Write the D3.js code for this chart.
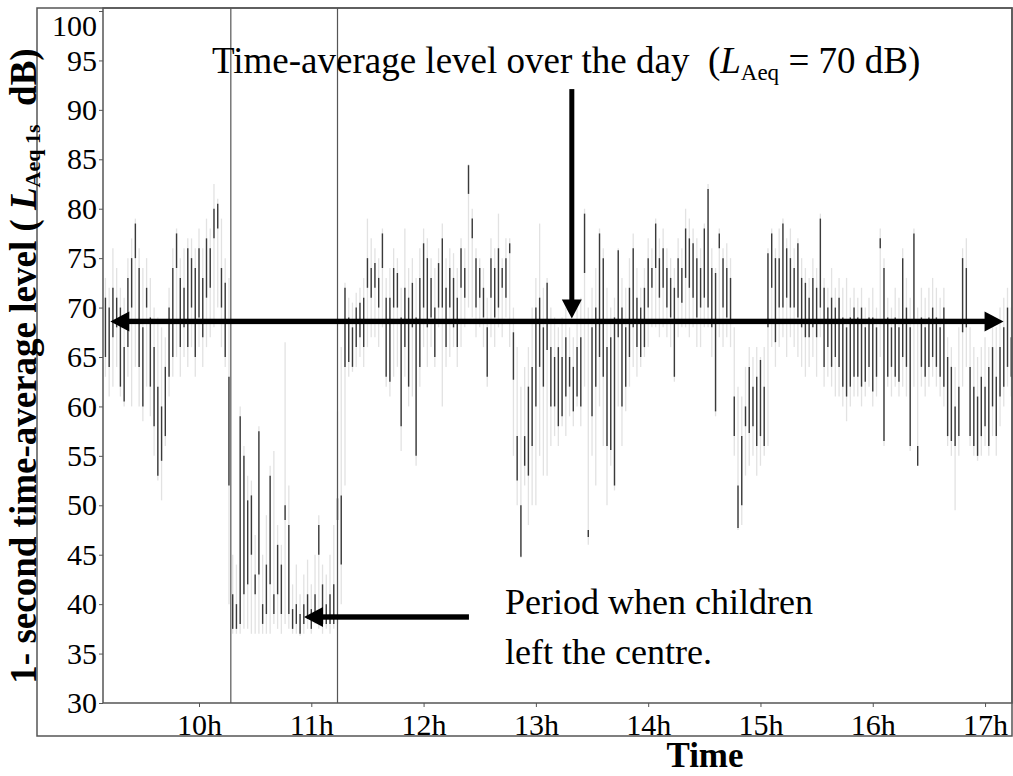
<!DOCTYPE html>
<html><head><meta charset="utf-8">
<script src="https://cdn.jsdelivr.net/npm/d3@7"></script>
<style>body{margin:0;background:#fff}svg{display:block}text{font-family:"Liberation Serif","DejaVu Serif",serif}</style>
</head><body>
<svg id="c" width="1013" height="776"></svg>
<script>
// ---- data: 1-second LAeq record summarised per 2-minute column (dB) ----
const startHour = 9 + 10/60;   // first column at 9:10
const stepMinutes = 2;
// light (full excursion) extent per column
const hiVals = [
 73,72,76,74,72,71,75,77,79,76,
 74,75,73,70,69,68,67,72,76,78,
 75,76,77,77,76,78,76,79,78,82.5,
 81,79,75,73,45,44,60,56,53,52.5,
 47,58,45,49,54,55.5,48,46,66.5,52,
 42,44,41,43,44.5,42,45,49,44,43,
 45,48,59.5,66,72.5,71,70.5,71.5,72,73,
 79,77,76,75,78,73,74,76,75,72,
 78,74,75,73,76,78,77,75,74,76,
 78.5,75,76,75.5,74,77,76,84.5,80,76,
 75,74,71,77,76,79.5,75,77,77,70,
 66,62,64,66,70,73,78.5,72,73,70,
 69,68,69,70,68,67,70,71,80,70,
 72,74,78,76,72,70,71,76,73,72,
 75,77.5,74,72,74,77,76,79,77,78,
 76,75,74,77,76,80,79,78,77,76,
 78.5,82.5,76,74,78,76,76.5,75,68,62,
 61,64,66,65,66,65,66,76,78,76,
 78,79,77,78,76,77,75,74,73,75,
 74,79.5,73,72,74,72,73,72,73,71,
 72,71,72,70,71,72,70,78,75,71,
 70,72,71,76,73,71,78,70,72,71,
 72,73,72,71,72,67,66,64,68,76,
 77,68,66,65,66,67,66,69,68,70,
 71,72,70];
const loVals = [
 63,61,62,64,61,60,63,60,64,60,
 58.5,62,59,55,52.5,50.5,56,61,63,65,
 63,65,64,66,63,66,64,66,67,68,
 70,66,64,40,37,37,37,37.5,37.5,37,
 37,37,37,37,37,38,37.5,37,38,37.5,
 37,37,36.8,37,37.5,37,38,37.5,37,37.5,
 37,37.5,38,40,52,63,63.5,64,65,64,
 66,67,67,66,68,62,61,63,64,55.5,
 63,60,61,54,62,66,64,66,64,68,
 60,64,65,66,64,66,68,70,69,67,
 68,66,62,67,66,68,67,69,66,55,
 50,44.7,52,48,50,50,55,53,53,56,
 57,56,58,57,59,58,60,58,62,46,
 55,52,60,56,50,54,51.5,60,56,59.5,
 62,64,63,64,65,66,68,68,67,68,
 67,66,62.5,67,68,68,67,68,66,66,
 68,68,65,59,67,66,67,66,55,47.5,
 48,53,54,55,53,54,55,56,66,64,
 66,67,65,67,66,65,64,63,64,65,
 63,67,62,63,62,61,61,60,58.5,60,
 61,61,60,61,62,60,61,65,56,62,
 61,62,61,62,61,55.5,62,54,62,61,
 62,63,62,61,60,56,55,49.5,55,62,
 64,56,55,54.5,55,56,55,57,55,58,
 60,62,61];
// dark (dense) part per column
const darkTop = [
 71,70,72,71,70,66,73,75,78.5,74,
 68,72,69,66,62,60,64,70,74,77.5,
 73,72,76,75,74,76,73,77,76,80,
 80.5,74,72.5,63,41,40,59,55,50.5,51,
 43,57.5,40,44,53,41,46,44,50,48,
 39.5,40,39,40,41,39.5,41,48,42,40,
 41,42,50.7,51,72,69,68,70,70.5,71,
 75,74,74.5,73,77.5,71,71,74,73.5,69,
 72,71,72.5,69,73,76.5,75,73,70,74.5,
 77,72,74,73,71,76,74,84.4,79,75,
 74,72,68,75,74,76,74,75,76.5,67.5,
 57,50,57,62,64,70,71,68,72.5,66,
 65,66,65,67,65,64,66,67,79.5,47.5,
 68,70,77.5,75,66,67,69,75.8,70,68,
 72,76,71,70,72,75,74,78.5,75,76,
 74,73,72,75,74,78,77,76.5,75,74,
 78,82,74,73.5,77.5,75,74,73,61,52,
 57,60,64,62,63,64.7,62,75.5,77.5,75,
 75,78.5,76,75,74,76.5,73,72.5,71,73,
 72,79,72,70,71,70,71,69,68,69,
 70,69,70,68,69,69,68,77,74,69,
 68,69,68,75,70,68,77.5,56,69,68,
 69,70,69,68,70,65,64,60,62,75,
 74,64,62,61,63,62,64,66,63,66,
 68,70,67];
const darkBot = [
 65,64,67,68,62,60.5,66,70,75,64,
 60,70,62,58,53,54.5,57,63,65,74,
 66,68,66,70,65,69,67,71,72,77,
 78,70,65,52,37.5,37.5,38,41,42,45,
 41,43,38,39,42,39,41,39,48.5,39,
 37.5,38,37,38,38.5,37.5,39,45,38,38,
 38,38,48.5,44,64,64.5,64,66,67,66,
 72,71,72,70,74,63,62.5,70,70,58,
 66,62,68,55,64,70,68,69,65,70,
 70,66,70,68,66,72,71,81.5,77,70,
 71,69,63,71,69,70,72,71,75.5,62.7,
 52.5,44.8,54,53,56,60,64,62,65.7,60,
 60,58,59,61,62,59.5,61,60,73.5,46.8,
 59,62,65,63,56,55.6,52,67,60,62,
 65,68,66,65,66,70,72,74,71,72,
 70,69,63,71,70.5,73,72,71,69,70,
 71,70,68,59.5,76,70,69,68.5,57,47.7,
 50,58,57.3,58,56,57,56,68,72,66.5,
 70,70,71,70,70,69,68,67,67,68,
 67,70,64,66,64,65,64,62,61,62,
 63,63,62,62.5,64,61.5,63,76,56.5,63,
 64,63,62.5,65,64,56,68.5,54,64,63,
 64,65,64,63,62,57,56.5,56,57,67.5,
 68,57,56,55,57,58,56,60,57,61,
 62,64,63];

// axes
const yTicks = [30,35,40,45,50,55,60,65,70,75,80,85,90,95,100];
const xTickHours = [10,11,12,13,14,15,16,17];
const xTickLabels = ["10h","11h","12h","13h","14h","15h","16h","17h"];

// annotations (data units: hours / dB)
const quietStart = 10 + 17/60, quietEnd = 11 + 14/60;
const dayLevelArrow = 68.6;
const dayArrowFrom = 9.21, dayArrowTo = 17.165;
const downArrowHour = 13.32, downArrowTop = 92.1;
const childArrowLevel = 38.7, childArrowTip = 10.935, childArrowTail = 12.395;

// ---- drawing ----
const svg = d3.select("#c");
const L = 103, R = 1012, T = 8, B = 703;
const x = d3.scaleLinear().domain([9.145, 17.24]).range([L, R]);
const y = d3.scaleLinear().domain([30, 100]).range([B, 11]);

const cols = hiVals.map((h, i) => ({
  t: startHour + i * stepMinutes / 60,
  hi: h, lo: loVals[i], dt: darkTop[i], db: darkBot[i]
}));

svg.append("clipPath").attr("id","pc").append("rect")
  .attr("x", L).attr("y", T).attr("width", R - L).attr("height", B - T);
const plot = svg.append("g").attr("clip-path","url(#pc)");

plot.append("g").selectAll("line").data(cols).join("line")
  .attr("x1", d => x(d.t)).attr("x2", d => x(d.t))
  .attr("y1", d => y(d.hi)).attr("y2", d => y(d.lo))
  .attr("stroke", "#e2e2e2").attr("stroke-width", 1.3);
plot.append("g").selectAll("line").data(cols).join("line")
  .attr("x1", d => x(d.t)).attr("x2", d => x(d.t))
  .attr("y1", d => y(d.dt)).attr("y2", d => y(d.db))
  .attr("stroke", "#3a3a3a").attr("stroke-width", 1.4);

// quiet-period markers
svg.append("g").selectAll("line").data([quietStart, quietEnd]).join("line")
  .attr("x1", d => x(d)).attr("x2", d => x(d)).attr("y1", T).attr("y2", B)
  .attr("stroke", "#555").attr("stroke-width", 1.2);

// frames
svg.append("rect").attr("x", 37).attr("y", T).attr("width", R - 37).attr("height", 736 - T)
  .attr("fill","none").attr("stroke","#555").attr("stroke-width",1.5);
svg.append("rect").attr("x", L).attr("y", T).attr("width", R - L).attr("height", B - T)
  .attr("fill","none").attr("stroke","#555").attr("stroke-width",1.5);

// y axis
const ya = svg.append("g").attr("transform", `translate(${L},0)`)
  .call(d3.axisLeft(y).tickValues(yTicks).tickSize(4).tickPadding(2).tickFormat(d3.format("d")));
ya.select(".domain").remove();
ya.selectAll("line").attr("stroke","#555");
ya.selectAll("text").attr("font-family", null).attr("font-size", 30).attr("fill","#000");
ya.selectAll(".tick").filter(d => d === 100).select("text").attr("dy","0.82em");

// x axis
const xa = svg.append("g").attr("transform", `translate(0,${B})`)
  .call(d3.axisBottom(x).tickValues(xTickHours).tickSize(4).tickFormat((d, i) => xTickLabels[i]));
xa.select(".domain").remove();
xa.selectAll("line").attr("stroke","#555");
xa.selectAll("text").attr("y", 32).attr("dy", 0)
  .attr("font-family", null).attr("font-size", 30).attr("fill","#000");
svg.selectAll("g").attr("font-family", null);

// axis titles
svg.append("text").attr("x", 705).attr("y", 767).attr("text-anchor","middle")
  .attr("font-size", 35).attr("font-weight","bold").text("Time");

const yl = svg.append("text").attr("transform","translate(36,366) rotate(-90)")
  .attr("text-anchor","middle").attr("font-size", 37)
  .attr("font-weight","bold").style("white-space","pre");
yl.append("tspan").text("1- second time-average level ( ");
yl.append("tspan").attr("font-style","italic").text("L");
yl.append("tspan").attr("font-size", 22).attr("dy", 4).text("Aeq 1s");
yl.append("tspan").attr("dy", -4).text("  dB)");

// title annotation
const tt = svg.append("text").attr("x", 212).attr("y", 73)
  .attr("font-size", 37).style("white-space","pre");
tt.append("tspan").text("Time-average level over the day  (");
tt.append("tspan").attr("font-style","italic").text("L");
tt.append("tspan").attr("font-size", 23).attr("dy", 7).text("Aeq");
tt.append("tspan").attr("dy", -7).text(" = 70 dB)");

// children annotation
const ct = svg.append("text").attr("font-size", 36);
ct.append("tspan").attr("x", 505).attr("y", 614).text("Period when children");
ct.append("tspan").attr("x", 505).attr("y", 664).text("left the centre.");

// arrows
const ann = svg.append("g").attr("fill","#000");
function hArrow(x1, x2, yy, headL, headR) {
  const hl = 19, hw = 10, sw = 2.7;
  const a = headL ? x1 + hl : x1, b = headR ? x2 - hl : x2;
  ann.append("rect").attr("x", a - 1).attr("y", yy - sw).attr("width", b - a + 2).attr("height", 2 * sw);
  if (headL) ann.append("path").attr("d", `M${x1},${yy}L${x1+hl},${yy-hw}L${x1+hl},${yy+hw}Z`);
  if (headR) ann.append("path").attr("d", `M${x2},${yy}L${x2-hl},${yy-hw}L${x2-hl},${yy+hw}Z`);
}
hArrow(x(dayArrowFrom), x(dayArrowTo), y(dayLevelArrow), true, true);
hArrow(x(childArrowTip), x(childArrowTail), y(childArrowLevel), true, false);
{
  const xx = x(downArrowHour), y1 = y(downArrowTop), y2 = y(dayLevelArrow) - 3, hl = 19, hw = 10, sw = 2.5;
  ann.append("rect").attr("x", xx - sw).attr("y", y1).attr("width", 2 * sw).attr("height", y2 - hl - y1 + 1);
  ann.append("path").attr("d", `M${xx},${y2}L${xx-hw},${y2-hl}L${xx+hw},${y2-hl}Z`);
}
</script>
</body></html>
